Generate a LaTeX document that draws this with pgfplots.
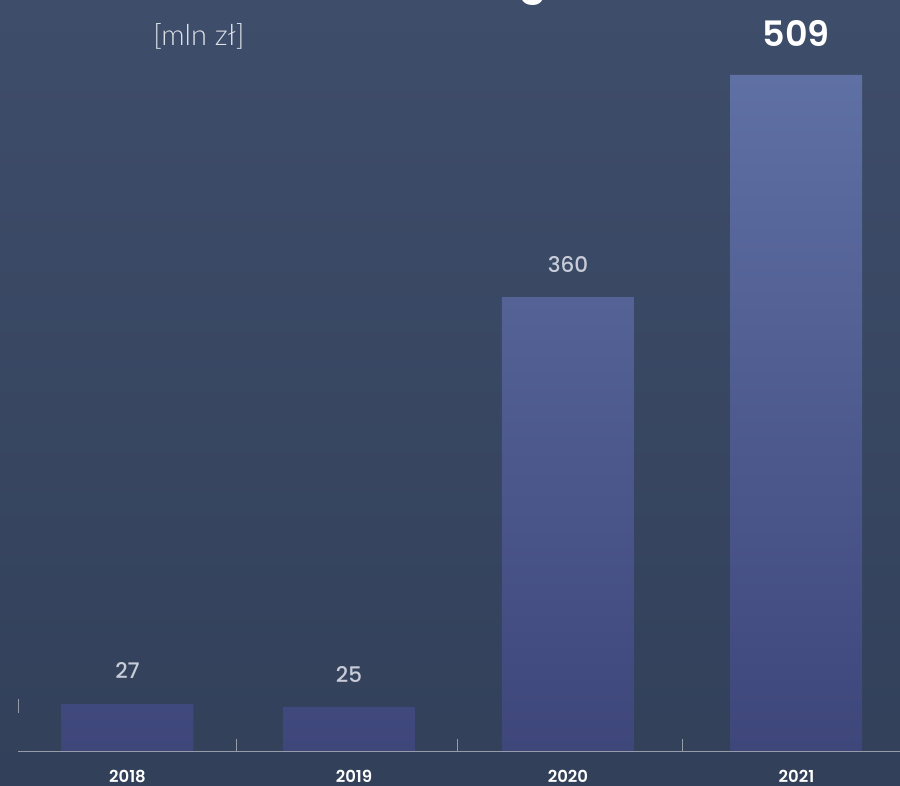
\documentclass[border=0pt]{standalone}
\usepackage{fontspec}
\setmainfont{Poppins}
\newfontfamily\lightfont{Lato Light}
\newfontfamily\medfont{Poppins Medium}
\newfontfamily\semifont{Poppins SemiBold}
\usepackage{pgfplots}
\pgfplotsset{compat=1.18}
\usepackage{pgfplotstable}
\definecolor{bgtop}{RGB}{62,77,106}
\definecolor{bgbot}{RGB}{50,64,90}
\definecolor{bartop}{RGB}{95,112,164}
\definecolor{barbot}{RGB}{62,70,122}
\definecolor{axisgray}{RGB}{150,155,170}
\definecolor{lbl}{RGB}{200,204,216}
\definecolor{unitlbl}{RGB}{222,225,232}

% x = bar position, h = bar height as drawn, label = printed value
\pgfplotstableread{
x h label
0 35.4 27
0.993 33.1 25
1.975 341.8 360
2.998 509 509
}\bars
\pgfplotstableread{
x h label
0 35.4 27
0.993 33.1 25
1.975 341.8 360
}\smalllabels
\pgfplotstableread{
x h label
2.998 509 509
}\biglabel

\begin{document}
\begin{tikzpicture}[x=1pt,y=1pt]
\useasboundingbox (0,0) rectangle (900,785);
\clip (0,0) rectangle (900,785);
\shade[top color=bgtop, bottom color=bgbot] (0,0) rectangle (900,785);
\node[text=white, font=\bfseries\fontsize{40}{40}\selectfont, anchor=base] at (533,790) {g};
\node[text=unitlbl, font=\lightfont\fontsize{29}{29}\selectfont, anchor=center] at (199,749) {[mln zł]};
\begin{axis}[
  at={(18pt,34pt)}, anchor=south west,
  scale only axis, width=882pt, height=676pt,
  xmin=-0.491, xmax=3.464, ymin=0, ymax=509,
  axis on top,
  axis x line*=bottom, axis y line=none,
  x axis line style={draw=axisgray, line width=1pt, -},
  xtick={0,1.016,1.975,3.0}, xticklabels={2018,2019,2020,2021},
  major tick length=0pt,
  extra x ticks={0.491,1.478,2.487}, extra x tick labels={},
  extra x tick style={major tick length=12pt, tick align=inside, tick style={draw=axisgray, line width=1pt}},
  xticklabel style={text=white, font=\semifont\fontsize{16.5}{16.5}\selectfont, anchor=base, yshift=-31pt, inner sep=0pt},
  clip=false,
]
\addplot[ybar, bar width=132pt, bar shift=0pt, draw=none, top color=bartop, bottom color=barbot] table[x=x,y=h]{\bars};
\addplot[draw=none, mark=none, nodes near coords, point meta=explicit symbolic,
  nodes near coords style={text=lbl, font=\medfont\fontsize{21.5}{21.5}\selectfont, anchor=center, yshift=33pt}]
  table[x=x,y=h,meta=label]{\smalllabels};
\addplot[draw=none, mark=none, nodes near coords, point meta=explicit symbolic,
  nodes near coords style={text=white, font=\semifont\fontsize{35}{35}\selectfont, anchor=center, yshift=42pt}]
  table[x=x,y=h,meta=label]{\biglabel};
\draw[axisgray, line width=1pt] (axis cs:-0.491,28.6) -- (axis cs:-0.491,39.1);
\end{axis}
\end{tikzpicture}
\end{document}
